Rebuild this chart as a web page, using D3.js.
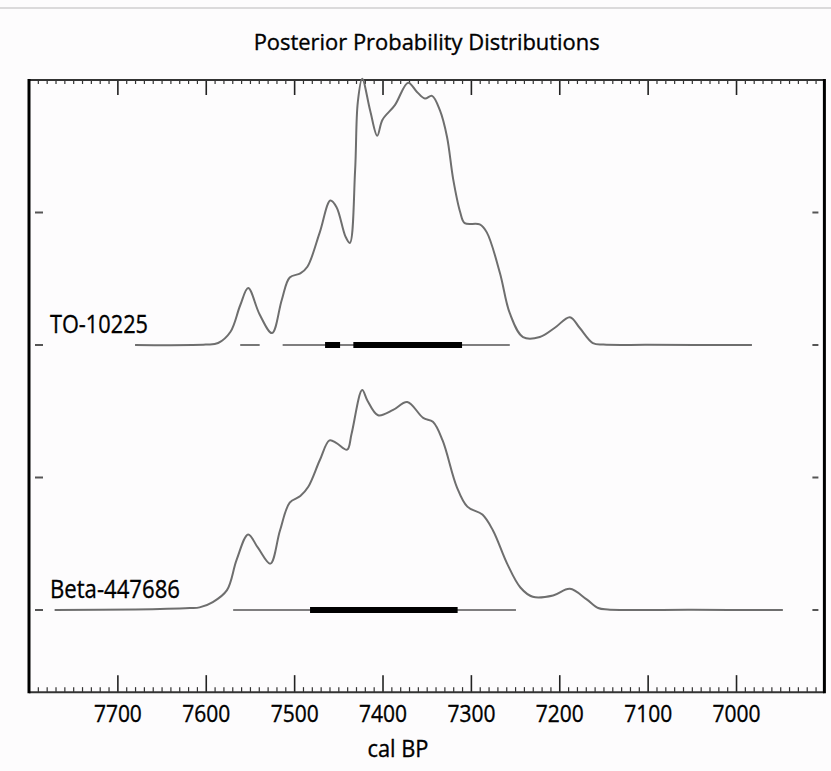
<!DOCTYPE html>
<html>
<head>
<meta charset="utf-8">
<script src="https://cdn.jsdelivr.net/npm/d3@7"></script>
<style>
  body { margin: 0; background: #fdfcfd; }
  svg { display: block; }
  text { font-family: "Open Sans", "Noto Sans", sans-serif; fill: #000; stroke: #000; stroke-width: 0.35px; }
</style>
</head>
<body>
<div id="chart"></div>
<script>
// ---- data (cal BP years, relative probability) ----
const sampleNames = ["TO-10225", "Beta-447686"];
const rowOffsets = [2, 0];

const toYears   = [7680, 7600, 7586, 7572, 7561, 7552, 7539, 7525, 7514, 7505, 7493, 7485, 7471, 7459, 7452, 7442, 7437, 7431, 7428, 7423, 7414, 7406, 7400, 7386, 7371, 7361, 7352, 7344, 7335, 7327, 7320, 7312, 7307, 7290, 7282, 7267, 7256, 7241, 7222, 7205, 7188, 7177, 7162, 7150, 7100, 6982];
const toProb    = [0, 0.003, 0.015, 0.10, 0.30, 0.43, 0.23, 0.09, 0.34, 0.51, 0.54, 0.59, 0.85, 1.09, 1.04, 0.82, 0.77, 1.32, 1.83, 2.01, 1.77, 1.58, 1.70, 1.81, 1.98, 1.91, 1.86, 1.88, 1.77, 1.57, 1.25, 1.00, 0.92, 0.91, 0.85, 0.54, 0.24, 0.06, 0.06, 0.13, 0.21, 0.13, 0.015, 0.003, 0.001, 0];

const betaYears = [7771, 7680, 7618, 7607, 7592, 7576, 7565, 7552, 7541, 7527, 7516, 7505, 7493, 7484, 7471, 7460, 7452, 7440, 7435, 7423, 7417, 7405, 7388, 7372, 7354, 7343, 7332, 7316, 7304, 7287, 7275, 7259, 7244, 7230, 7207, 7188, 7169, 7156, 7145, 7050, 6947];
const betaProb  = [0, 0.004, 0.015, 0.02, 0.06, 0.15, 0.38, 0.57, 0.47, 0.35, 0.60, 0.81, 0.86, 0.93, 1.13, 1.28, 1.26, 1.21, 1.33, 1.66, 1.58, 1.47, 1.51, 1.57, 1.45, 1.42, 1.28, 0.93, 0.78, 0.72, 0.60, 0.35, 0.17, 0.10, 0.11, 0.16, 0.08, 0.015, 0.004, 0.001, 0];

// highest posterior density ranges [from, to]
const toRange95   = [[7561, 7539], [7513, 7256]];
const toRange68   = [[7465, 7448], [7433, 7310]];
const betaRange95 = [[7569, 7249]];
const betaRange68 = [[7482, 7315]];

const majorTicks = [7700, 7600, 7500, 7400, 7300, 7200, 7100, 7000];
const yTicks = [0, 1, 2, 3];

const titleText = "Posterior Probability Distributions";
const xLabel = "cal BP";

// ---- layout ----
const W = 831, H = 771;
const plotLeft = 29, plotRight = 824.4;

const x = d3.scaleLinear().domain([7800, 6900]).range([plotLeft, plotRight]);
const y = d3.scaleLinear().domain([0, 4]).range([610, 80]);
const plotTop = y(4), plotBottom = y(-0.62);

const svg = d3.select("#chart").append("svg")
  .attr("width", W).attr("height", H);

// faint line across the top of the page
svg.append("line")
  .attr("x1", 0).attr("x2", W).attr("y1", 8).attr("y2", 8)
  .attr("stroke", "#cfcfcf").attr("stroke-width", 1.5);

svg.append("text")
  .attr("x", (plotLeft + plotRight) / 2).attr("y", 50)
  .attr("text-anchor", "middle")
  .attr("font-size", 22)
  .attr("textLength", 346).attr("lengthAdjust", "spacingAndGlyphs")
  .text(titleText);

// ---- axes (ticks point inward) ----
const minorTicks = d3.range(6900, 7801, 10).filter(d => d % 100 !== 0);

const bottomMajor = svg.append("g")
  .attr("transform", `translate(0,${plotBottom})`)
  .call(d3.axisBottom(x).tickValues(majorTicks).tickSizeInner(-17).tickSizeOuter(0).tickPadding(14).tickFormat(d3.format("d")));
bottomMajor.select(".domain").remove();
bottomMajor.selectAll("line").attr("stroke", "#222").attr("stroke-width", 1.6);
bottomMajor.selectAll("text")
  .attr("font-size", 23)
  .attr("font-family", "Open Sans, sans-serif")
  .attr("fill", "#000")
  .attr("textLength", 48).attr("lengthAdjust", "spacingAndGlyphs");

const bottomMinor = svg.append("g")
  .attr("transform", `translate(0,${plotBottom})`)
  .call(d3.axisBottom(x).tickValues(minorTicks).tickSizeInner(-5).tickSizeOuter(0).tickFormat(""));
bottomMinor.select(".domain").remove();
bottomMinor.selectAll("line").attr("stroke", "#333").attr("stroke-width", 1.2);

const topMajor = svg.append("g")
  .attr("transform", `translate(0,${plotTop})`)
  .call(d3.axisTop(x).tickValues(majorTicks).tickSizeInner(-15).tickSizeOuter(0).tickFormat(""));
topMajor.select(".domain").remove();
topMajor.selectAll("line").attr("stroke", "#222").attr("stroke-width", 1.6);

const topMinor = svg.append("g")
  .attr("transform", `translate(0,${plotTop})`)
  .call(d3.axisTop(x).tickValues(minorTicks).tickSizeInner(-4).tickSizeOuter(0).tickFormat(""));
topMinor.select(".domain").remove();
topMinor.selectAll("line").attr("stroke", "#333").attr("stroke-width", 1.2);

// y ticks: short dashes set a little inside the frame
svg.append("g").selectAll("line")
  .data(yTicks).enter().append("line")
  .attr("x1", plotLeft + 6).attr("x2", plotLeft + 14)
  .attr("y1", d => y(d)).attr("y2", d => y(d))
  .attr("stroke", "#555").attr("stroke-width", 2);
svg.append("g").selectAll("line")
  .data(yTicks).enter().append("line")
  .attr("x1", plotRight - 12).attr("x2", plotRight - 6)
  .attr("y1", d => y(d)).attr("y2", d => y(d))
  .attr("stroke", "#555").attr("stroke-width", 2);

// frame
svg.append("line").attr("x1", plotLeft).attr("x2", plotRight).attr("y1", plotTop).attr("y2", plotTop)
  .attr("stroke", "#333").attr("stroke-width", 2);
svg.append("line").attr("x1", plotLeft).attr("x2", plotRight).attr("y1", plotBottom).attr("y2", plotBottom)
  .attr("stroke", "#333").attr("stroke-width", 2);
svg.append("line").attr("x1", plotLeft).attr("x2", plotLeft).attr("y1", plotTop - 1).attr("y2", plotBottom + 1)
  .attr("stroke", "#000").attr("stroke-width", 3);
svg.append("line").attr("x1", plotRight).attr("x2", plotRight).attr("y1", plotTop - 1).attr("y2", plotBottom + 1)
  .attr("stroke", "#000").attr("stroke-width", 3);

// ---- distributions ----
function drawSample(years, probs, offset, r95, r68, name, labelWidth) {
  const pts = years.map((yr, i) => [yr, probs[i]]);
  const line = d3.line()
    .x(d => x(d[0]))
    .y(d => y(d[1] + offset))
    .curve(d3.curveCatmullRom.alpha(0.5));

  svg.append("path")
    .datum(pts)
    .attr("d", line)
    .attr("fill", "none")
    .attr("stroke", "#6e6e6e")
    .attr("stroke-width", 2)
    .attr("stroke-linejoin", "round");

  svg.append("g").selectAll("line")
    .data(r95).enter().append("line")
    .attr("x1", d => x(d[0])).attr("x2", d => x(d[1]))
    .attr("y1", y(offset)).attr("y2", y(offset))
    .attr("stroke", "#555").attr("stroke-width", 1.6);

  svg.append("g").selectAll("line")
    .data(r68).enter().append("line")
    .attr("x1", d => x(d[0])).attr("x2", d => x(d[1]))
    .attr("y1", y(offset)).attr("y2", y(offset))
    .attr("stroke", "#000").attr("stroke-width", 6);

  svg.append("text")
    .attr("x", 50).attr("y", y(offset) - 12)
    .attr("font-size", 26)
    .attr("textLength", labelWidth).attr("lengthAdjust", "spacingAndGlyphs")
    .text(name);
}

drawSample(toYears, toProb, rowOffsets[0], toRange95, toRange68, sampleNames[0], 98);
drawSample(betaYears, betaProb, rowOffsets[1], betaRange95, betaRange68, sampleNames[1], 130);

svg.append("text")
  .attr("x", 398).attr("y", 757)
  .attr("text-anchor", "middle")
  .attr("font-size", 23)
  .attr("textLength", 61).attr("lengthAdjust", "spacingAndGlyphs")
  .text(xLabel);
</script>
</body>
</html>
